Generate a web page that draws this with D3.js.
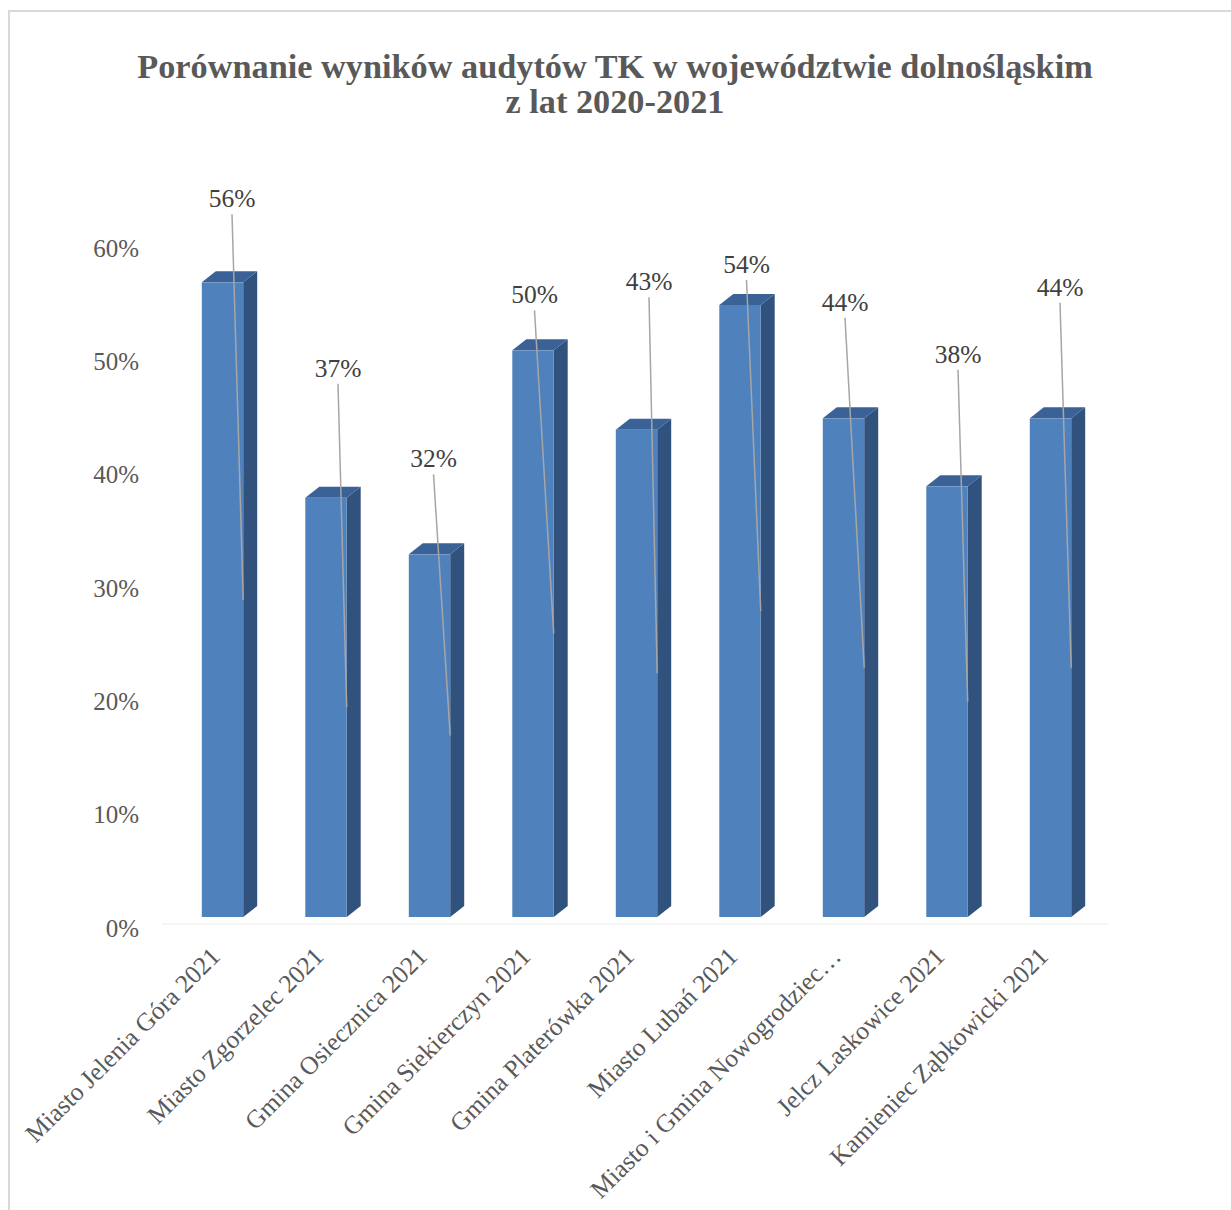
<!DOCTYPE html>
<html>
<head>
<meta charset="utf-8">
<script src="https://cdn.jsdelivr.net/npm/d3@7/dist/d3.min.js"></script>
<style>
  html, body { margin: 0; padding: 0; background: #fff; }
  svg { display: block; }
</style>
</head>
<body>
<svg id="chart" width="1231" height="1210"></svg>
<script>
// ---- data ----
const categories = [
  "Miasto Jelenia Góra 2021",
  "Miasto Zgorzelec 2021",
  "Gmina Osiecznica 2021",
  "Gmina Siekierczyn 2021",
  "Gmina Platerówka 2021",
  "Miasto Lubań 2021",
  "Miasto i Gmina Nowogrodziec…",
  "Jelcz Laskowice 2021",
  "Kamieniec Ząbkowicki 2021"
];
const values = [0.56, 0.37, 0.32, 0.50, 0.43, 0.54, 0.44, 0.38, 0.44];
const yTicks = [0, 0.1, 0.2, 0.3, 0.4, 0.5, 0.6];
const titleLines = ["Porównanie wyników audytów TK w województwie dolnośląskim", "z lat 2020-2021"];

// ---- layout (manually dragged data-label positions, px relative to bar top-centre) ----
const labelNudge = [[9.5,-84],[12,-130],[4,-96],[1.5,-56],[12.5,-148.5],[6.5,-41],[1.5,-116.5],[11,-132.5],[9.5,-131.5]];

const FONT = "'Liberation Serif', 'Times New Roman', serif";
const svg = d3.select("#chart");

// frame
svg.append("rect").attr("x", 9).attr("y", 11).attr("width", 1400).attr("height", 1400)
  .attr("fill", "none").attr("stroke", "#d9d9d9").attr("stroke-width", 2);

// title
const title = svg.append("g").attr("font-family", FONT).attr("font-weight", "bold")
  .attr("fill", "#595959").attr("text-anchor", "middle");
const t1 = title.append("text").attr("x", 615).attr("y", 78).attr("font-size", 30).text(titleLines[0]);
const w1 = t1.node().getComputedTextLength();
const titleSize = 30 * 956 / w1;
t1.attr("font-size", titleSize);
title.append("text").attr("x", 615).attr("y", 113).attr("font-size", titleSize).text(titleLines[1]);

// scales
const x = d3.scaleBand().domain(categories).range([170.75, 1102.25]).padding(0);
const y = d3.scaleLinear().domain([0, 0.6]).range([928, 248]);
const depth = { dx: 14, dy: -11 };
const frontShift = -11;
const barW = x.bandwidth() * 0.4;
const cx = c => x(c) + x.bandwidth() / 2;

// floor line
svg.append("line").attr("x1", 162).attr("x2", 1108).attr("y1", y(0) - 4).attr("y2", y(0) - 4)
  .attr("stroke", "#f2f2f2").attr("stroke-width", 1.5);

// y axis labels
const yAxis = d3.axisLeft(y).tickValues(yTicks).tickFormat(d3.format(".0%")).tickSize(0).tickPadding(0);
const yg = svg.append("g").attr("transform", "translate(139,0)").call(yAxis);
yg.select(".domain").remove();
yg.selectAll("text").attr("font-family", FONT).attr("font-size", 25).attr("fill", "#595959");

// bars (3D)
const data = categories.map((c, i) => ({ c, v: values[i], i }));
const bars = svg.append("g");
data.forEach(d => {
  const x0 = cx(d.c) - barW / 2, x1 = x0 + barW;
  const yt = y(d.v) + frontShift, yb = y(0) + frontShift;
  const g = bars.append("g");
  // side
  g.append("path").attr("d", `M${x1},${yt}L${x1 + depth.dx},${yt + depth.dy}L${x1 + depth.dx},${yb + depth.dy}L${x1},${yb}Z`)
    .attr("fill", "#30527c");
  // top
  g.append("path").attr("d", `M${x0},${yt}L${x0 + depth.dx},${yt + depth.dy}L${x1 + depth.dx},${yt + depth.dy}L${x1},${yt}Z`)
    .attr("fill", "#3a6296");
  // front
  g.append("rect").attr("x", x0).attr("y", yt).attr("width", barW).attr("height", yb - yt)
    .attr("fill", "#4f81bd");
});

// leader lines + data labels
const labels = svg.append("g");
data.forEach(d => {
  const x1 = cx(d.c) + barW / 2;
  const yt = y(d.v) + frontShift, yb = y(0) + frontShift;
  const lx = cx(d.c) + labelNudge[d.i][0];
  const ly = yt + labelNudge[d.i][1];
  labels.append("line").attr("x1", lx).attr("y1", ly + 16).attr("x2", x1).attr("y2", (yt + yb) / 2)
    .attr("stroke", "#a6a6a6").attr("stroke-width", 1.5);
  labels.append("text").attr("x", lx).attr("y", ly).attr("dy", "0.35em")
    .attr("text-anchor", "middle").attr("font-family", FONT).attr("font-size", 25.5)
    .attr("fill", "#404040").text(d3.format(".0%")(d.v));
});

// x labels rotated
const xl = svg.append("g");
data.forEach(d => {
  xl.append("text")
    .attr("transform", `translate(${cx(d.c) - 1},${958}) rotate(-45)`)
    .attr("text-anchor", "end").attr("font-family", FONT).attr("font-size", 25.5)
    .attr("fill", "#595959").text(d.c);
});
</script>
</body>
</html>
